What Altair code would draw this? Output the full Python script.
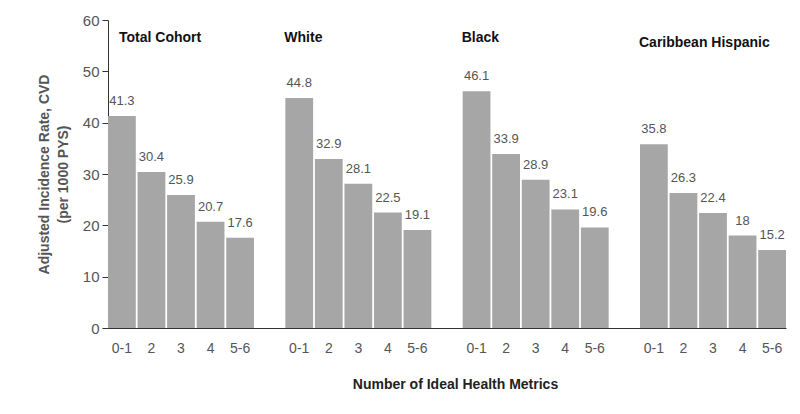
import altair as alt
import pandas as pd

groups = ["Total Cohort", "White", "Black", "Caribbean Hispanic"]
group_keys = ["TC", "W", "B", "CH"]
metrics = ["0-1", "2", "3", "4", "5-6"]
values = {
    "TC": [41.3, 30.4, 25.9, 20.7, 17.6],
    "W": [44.8, 32.9, 28.1, 22.5, 19.1],
    "B": [46.1, 33.9, 28.9, 23.1, 19.6],
    "CH": [35.8, 26.3, 22.4, 18, 15.2],
}
title_y = [56.4, 56.4, 56.4, 55.6]

rows = []
domain = []
for gi, g in enumerate(group_keys):
    for m, v in zip(metrics, values[g]):
        key = f"{g}|{m}"
        domain.append(key)
        rows.append({"key": key, "value": v, "label": f"{v:g}"})
    if gi < len(group_keys) - 1:
        domain.append(f"gap{gi}")
df = pd.DataFrame(rows)

titles = pd.DataFrame({
    "key": [f"{g}|0-1" for g in group_keys],
    "title": groups,
    "value": title_y,
})

FONT = "Liberation Sans"

x_scale = alt.Scale(domain=domain, paddingInner=0.06, paddingOuter=0)
x_axis = alt.Axis(
    title="Number of Ideal Health Metrics",
    labelExpr="indexof(datum.value,'|')>=0 ? split(datum.value,'|')[1] : ''",
    labelAngle=0,
    ticks=False,
    labelPadding=13,
    labelFontSize=14,
    labelColor="#555555",
    labelFont=FONT,
    domainColor="#333333",
    titleFont=FONT,
    titleFontSize=14,
    titleFontWeight="bold",
    titleColor="#222222",
    titlePadding=22,
    titleX=347,
)
y_scale = alt.Scale(domain=[0, 60], nice=False)
y_axis = alt.Axis(
    title=["Adjusted Incidence Rate, CVD", "(per 1000 PYS)"],
    values=[0, 10, 20, 30, 40, 50, 60],
    grid=False,
    tickSize=6,
    tickColor="#333333",
    domainColor="#333333",
    labelFontSize=15,
    labelColor="#555555",
    labelFont=FONT,
    labelPadding=3,
    titleFont=FONT,
    titleFontSize=14,
    titleFontWeight="bold",
    titleColor="#555555",
    titleLineHeight=19,
    titlePadding=12,
)

x = alt.X("key:N", scale=x_scale, sort=domain, axis=x_axis)
x_left = alt.X("key:N", scale=x_scale, sort=domain, axis=x_axis, bandPosition=0)
y = alt.Y("value:Q", scale=y_scale, axis=y_axis)

base = alt.Chart(df)
bars = base.mark_bar(color="#a6a6a6").encode(x=x, y=y)
labels = base.mark_text(
    baseline="bottom", dy=-8, fontSize=13, color="#555555", font=FONT
).encode(x=x, y=y, text="label:N")

tbase = alt.Chart(titles)
title_first = tbase.transform_filter(alt.datum.title == "Total Cohort").mark_text(
    align="left", baseline="middle", fontSize=14, fontWeight="bold", color="#111111", font=FONT, dx=11
).encode(x=x_left, y=y, text="title:N")
title_rest = tbase.transform_filter(alt.datum.title != "Total Cohort").mark_text(
    align="left", baseline="middle", fontSize=14, fontWeight="bold", color="#111111", font=FONT, dx=-1
).encode(x=x_left, y=y, text="title:N")

chart = (
    alt.layer(bars, labels, title_first, title_rest)
    .properties(
        width=678,
        height=308,
        autosize=alt.AutoSizeParams(type="none"),
        padding={"left": 100, "top": 12, "right": 6, "bottom": 78},
    )
    .configure_view(stroke=None)
)

chart.save("out.html", embed_options={"renderer": "svg", "actions": False})
